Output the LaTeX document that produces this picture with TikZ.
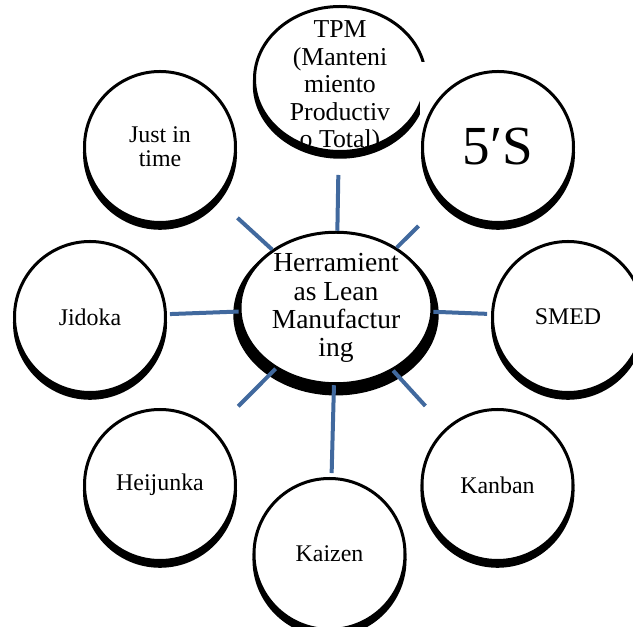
\documentclass[tikz,border=0pt]{standalone}
\usepackage{fontspec}
\setmainfont{Liberation Serif}
\usetikzlibrary{shapes.geometric,shadows}
\definecolor{spokeblue}{RGB}{65,105,158}

\begin{document}
\begin{tikzpicture}[x=0.03cm, y=-0.03cm,
  tool/.style={draw, line width=0.09cm, fill=white, inner sep=0pt, align=center},
  rimshadow/.style={drop shadow={shadow xshift=0cm, shadow yshift=-0.17cm, shadow scale=1.02, fill=black, opacity=1}},
  ring/.style={tool, circle, minimum size=4.53cm, font=\fontsize{20.4}{20.7}\selectfont, rimshadow},
  spoke/.style={spokeblue, line width=0.12cm}]
  \useasboundingbox (0,0) rectangle (633,627);

  \node[tool, ellipse, minimum width=5.13cm, minimum height=4.35cm, rimshadow,
    label={[yshift=-0.24cm, align=center, font=\fontsize{22}{23.5}\selectfont]center:{TPM\\(Manteni\\miento\\Productiv\\o Total)}}]
    (tpm) at (340,79) {};
  \fill[white] (420,62) rectangle (440,128);
  \node[ring] (jit) at (160,147) {Just in\\time};
  \node[ring, font=\fontsize{47}{48}\selectfont] (fives) at (498,147) {5′S};
  \node[ring] (jidoka) at (90,317) {Jidoka};
  \node[ring] (smed) at (568,317) {SMED};
  \node[ring] (heijunka) at (160,485) {Heijunka};
  \node[ring] (kanban) at (497.5,485) {Kanban};
  \node[ring] (kaizen) at (329.5,554) {Kaizen};

  \node[tool, ellipse, minimum width=5.76cm, minimum height=4.545cm, inner ysep=-8pt,
    font=\fontsize{23.5}{24}\selectfont,
    drop shadow={shadow xshift=0cm, shadow yshift=-0.18cm, shadow scale=1.07, fill=black, opacity=1}]
    (hub) at (336,308) {Herramient\\as Lean\\Manufactur\\ing};

  % spokes
  \draw[spoke, shorten >=0.66cm] (hub) -- (tpm);
  \draw[spoke, shorten >=0.84cm] (hub) -- (jit);
  \draw[spoke, shorten >=1.05cm] (hub) -- (fives);
  \draw[spoke, shorten >=0.09cm] (hub) -- (jidoka);
  \draw[spoke, shorten >=0.12cm] (hub) -- (smed);
  \draw[spoke, shorten >=1.02cm] (hub) -- (heijunka);
  \draw[spoke, shorten >=0.9cm] (hub) -- (kanban);
  \draw[spoke, shorten >=0.12cm] (hub) -- (kaizen);
\end{tikzpicture}
\end{document}
